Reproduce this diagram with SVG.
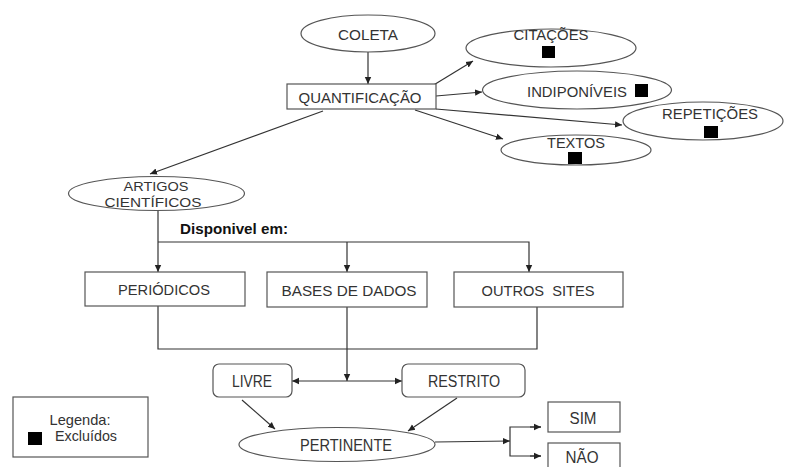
<svg xmlns="http://www.w3.org/2000/svg" width="785" height="467" viewBox="0 0 785 467">
<style>
.s{fill:#fff;stroke:#555;stroke-width:1.2}
.t{font-family:"Liberation Sans",Arial,sans-serif;font-size:15px;fill:#333;text-anchor:middle;dominant-baseline:central}
.n{font-size:16px}
.l{font-size:14.5px}
.m{font-size:13.5px}
.b{font-weight:bold;fill:#111;text-anchor:start}
.c{fill:none;stroke:#333;stroke-width:1.2}
.sq{fill:#000}
</style>
<defs>
<marker id="a" markerWidth="8" markerHeight="8" refX="7" refY="4" orient="auto" markerUnits="userSpaceOnUse">
<path d="M0,0.8 L7,4 L0,7.2 Z" fill="#222"/>
</marker>
</defs>
<rect width="785" height="467" fill="#fff"/>
<g id="connectors">
<line class="c" x1="368" y1="52" x2="368" y2="84" marker-end="url(#a)"/>
<line class="c" x1="432" y1="86" x2="473" y2="61" marker-end="url(#a)"/>
<line class="c" x1="436" y1="96" x2="482" y2="92" marker-end="url(#a)"/>
<line class="c" x1="436" y1="109" x2="622" y2="125" marker-end="url(#a)"/>
<line class="c" x1="415" y1="110" x2="503" y2="139" marker-end="url(#a)"/>
<line class="c" x1="323" y1="111" x2="150" y2="174" marker-end="url(#a)"/>
<line class="c" x1="158" y1="210" x2="158" y2="272" marker-end="url(#a)"/>
<polyline class="c" points="158,242 529,242 529,272" marker-end="url(#a)"/>
<line class="c" x1="347" y1="242" x2="347" y2="272" marker-end="url(#a)"/>
<polyline class="c" points="158,306 158,349 537,349 537,307"/>
<line class="c" x1="347" y1="307" x2="347" y2="381" marker-end="url(#a)"/>
<line class="c" x1="347" y1="381" x2="292" y2="381" marker-end="url(#a)"/>
<line class="c" x1="347" y1="381" x2="402" y2="381" marker-end="url(#a)"/>
<line class="c" x1="242" y1="400" x2="275" y2="429" marker-end="url(#a)"/>
<line class="c" x1="457" y1="398" x2="408" y2="431" marker-end="url(#a)"/>
<line class="c" x1="435" y1="442" x2="510" y2="441" marker-end="url(#a)"/>
<polyline class="c" points="541,427 510,427 510,456 541,456"/>
<line class="c" x1="530" y1="427" x2="541" y2="427" marker-end="url(#a)"/>
<line class="c" x1="530" y1="456" x2="541" y2="456" marker-end="url(#a)"/>
</g>
<g id="coleta"><ellipse class="s" cx="368" cy="33.5" rx="67" ry="18.5"/><text class="t" x="368" y="34" textLength="60" lengthAdjust="spacingAndGlyphs">COLETA</text></g>
<g id="quantificacao"><rect class="s" x="287" y="84" width="149" height="25"/><text class="t" x="360" y="97" textLength="123" lengthAdjust="spacingAndGlyphs">QUANTIFICAÇÃO</text></g>
<g id="citacoes"><ellipse class="s" cx="551" cy="48" rx="85" ry="19"/><text class="t" x="551" y="34" textLength="75" lengthAdjust="spacingAndGlyphs">CITAÇÕES</text><rect class="sq" x="542" y="46" width="13" height="12"/></g>
<g id="indisponiveis"><ellipse class="s" cx="577" cy="90" rx="94.5" ry="19"/><text class="t" x="577" y="91" textLength="100" lengthAdjust="spacingAndGlyphs">INDIPONÍVEIS</text><rect class="sq" x="635" y="84" width="13" height="13"/></g>
<g id="repeticoes"><ellipse class="s" cx="703" cy="121" rx="80" ry="19"/><text class="t" x="710" y="113" textLength="96" lengthAdjust="spacingAndGlyphs">REPETIÇÕES</text><rect class="sq" x="704" y="126" width="14" height="12"/></g>
<g id="textos"><ellipse class="s" cx="576" cy="150" rx="75" ry="15"/><text class="t" x="576" y="142" textLength="58" lengthAdjust="spacingAndGlyphs">TEXTOS</text><rect class="sq" x="568" y="152" width="14" height="12"/></g>
<g id="artigos"><ellipse class="s" cx="156.5" cy="193.5" rx="88" ry="17"/><text class="t m" x="156" y="186" textLength="65" lengthAdjust="spacingAndGlyphs">ARTIGOS</text><text class="t m" x="153" y="202" textLength="97" lengthAdjust="spacingAndGlyphs">CIENTÍFICOS</text></g>
<g id="disponivel"><text class="t b" x="180" y="228" textLength="108" lengthAdjust="spacingAndGlyphs">Disponivel em:</text></g>
<g id="periodicos"><rect class="s" x="85" y="272" width="160" height="34"/><text class="t" x="164" y="289" textLength="92" lengthAdjust="spacingAndGlyphs">PERIÓDICOS</text></g>
<g id="bases"><rect class="s" x="267" y="272" width="160" height="35"/><text class="t" x="349" y="290" textLength="135" lengthAdjust="spacingAndGlyphs">BASES DE DADOS</text></g>
<g id="outros"><rect class="s" x="454" y="272" width="169" height="35"/><text class="t" x="538" y="290" textLength="113" lengthAdjust="spacingAndGlyphs" xml:space="preserve">OUTROS  SITES</text></g>
<g id="livre"><rect class="s" x="213" y="364" width="79" height="33" rx="6"/><text class="t n" x="252" y="381" textLength="40" lengthAdjust="spacingAndGlyphs">LIVRE</text></g>
<g id="restrito"><rect class="s" x="402" y="364" width="123" height="33" rx="6"/><text class="t n" x="464" y="381" textLength="72" lengthAdjust="spacingAndGlyphs">RESTRITO</text></g>
<g id="pertinente"><ellipse class="s" cx="337" cy="444.5" rx="98" ry="17"/><text class="t n" x="346" y="445" textLength="92" lengthAdjust="spacingAndGlyphs">PERTINENTE</text></g>
<g id="sim"><rect class="s" x="548" y="402" width="72" height="30"/><text class="t n" x="583" y="418" textLength="27" lengthAdjust="spacingAndGlyphs">SIM</text></g>
<g id="nao"><rect class="s" x="548" y="443" width="72" height="30"/><text class="t n" x="582" y="457" textLength="33" lengthAdjust="spacingAndGlyphs">NÃO</text></g>
<g id="legenda"><rect class="s" x="13" y="397" width="135" height="60"/><text class="t l" x="80" y="420" textLength="61" lengthAdjust="spacingAndGlyphs">Legenda:</text><text class="t l" x="86" y="436" textLength="62" lengthAdjust="spacingAndGlyphs">Excluídos</text><rect class="sq" x="28" y="432" width="14" height="13"/></g>
</svg>
